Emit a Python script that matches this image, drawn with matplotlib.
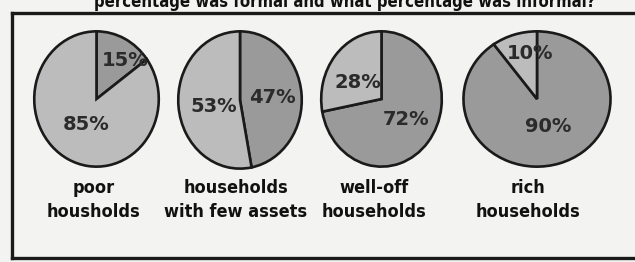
import matplotlib
matplotlib.use("Agg")
import matplotlib.pyplot as plt
from matplotlib.lines import Line2D

# ---- data ----
categories = ["poor\nhousholds", "households\nwith few assets",
              "well-off\nhouseholds", "rich\nhouseholds"]
dark_share = [15, 47, 72, 90]     # dark wedge, clockwise from top
light_share = [85, 53, 28, 10]    # light wedge
title = "percentage was formal and what percentage was informal?"

# ---- styling ----
W, H = 635, 262
BG = "#f3f3f1"
DARK = "#9a9a9a"
LIGHT = "#bcbcbc"
EDGE = "#1a1a1a"
TXT = "#2b2b2b"

# pie boxes in pixels (x0, y0_top, x1, y1_bottom)
boxes = [(33, 30, 160, 168), (177, 30, 303, 170),
         (320, 30, 443, 168), (462, 30, 612, 168)]
# label offsets in pie units for (dark, light)
label_pos = [((0.46, 0.57), (-0.17, -0.38)),
             ((0.52, 0.03), (-0.43, -0.10)),
             ((0.41, -0.30), (-0.40, 0.25)),
             ((0.15, -0.41), (-0.09, 0.67))]
cat_x = [94, 236, 374, 528]

fig = plt.figure(figsize=(W / 100, H / 100), dpi=100, facecolor=BG)

# frame lines
lw = 2.4
fig.add_artist(Line2D([12 / W, 12 / W], [1 - 13 / H, 1 - 258 / H], color=EDGE, lw=lw,
                      transform=fig.transFigure))
fig.add_artist(Line2D([12 / W, 1.0], [1 - 13 / H, 1 - 13 / H], color=EDGE, lw=lw,
                      transform=fig.transFigure))
fig.add_artist(Line2D([12 / W, 1.0], [1 - 258 / H, 1 - 258 / H], color=EDGE, lw=lw,
                      transform=fig.transFigure))

# title, cropped at the top edge as in the source photo
fig.text(345 / W, 1 - 7 / H, title, ha="center", va="baseline", fontsize=12,
         fontweight="bold", color="#111111", family="DejaVu Sans",
         fontstretch="condensed")

for i in range(len(categories)):
    x0, y0, x1, y1 = boxes[i]
    ax = fig.add_axes([x0 / W, 1 - y1 / H, (x1 - x0) / W, (y1 - y0) / H])
    ax.pie([dark_share[i], light_share[i]], colors=[DARK, LIGHT], startangle=90,
           counterclock=False,
           wedgeprops=dict(edgecolor=EDGE, linewidth=1.9))
    ax.set_aspect("auto")
    ax.set_xlim(-1.02, 1.02)
    ax.set_ylim(-1.02, 1.02)
    ax.axis("off")
    for val, (px, py) in zip([dark_share[i], light_share[i]], label_pos[i]):
        ax.text(px, py, f"{val}%", ha="center", va="center", fontsize=14,
                fontweight="bold", color=TXT, family="DejaVu Sans")
    fig.text(cat_x[i] / W, 1 - 200 / H, categories[i], ha="center", va="center",
             fontsize=13, fontweight="bold", color="#111111", family="DejaVu Sans",
             fontstretch="condensed", linespacing=1.45)

fig.savefig("out.png", dpi=100, facecolor=BG)
